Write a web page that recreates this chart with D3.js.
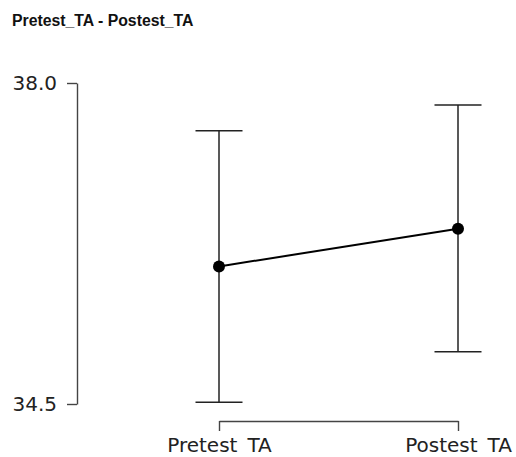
<!DOCTYPE html>
<html>
<head>
<meta charset="utf-8">
<script src="https://cdn.jsdelivr.net/npm/d3@7"></script>
<style>
  html, body { margin: 0; padding: 0; background: #fff; }
  svg { display: block; }
</style>
</head>
<body>
<svg id="chart" width="516" height="457"></svg>
<script>
const title = "Pretest_TA - Postest_TA";
const categories = ["Pretest_TA", "Postest_TA"];
const categoryLabels = ["Pretest\u2002TA", "Postest\u2002TA"];
const means = [36.0, 36.41];
const lowers = [34.52, 35.07];
const uppers = [37.48, 37.76];
const yTicks = [34.5, 38.0];

const svg = d3.select("#chart");
const W = 516, H = 457;

const x = d3.scalePoint().domain(categories).range([219, 458]).padding(0);
const y = d3.scaleLinear().domain([34.5, 38.0]).range([404, 83]);

svg.append("rect").attr("width", W).attr("height", H).attr("fill", "#fff");

svg.append("text")
  .attr("x", 12).attr("y", 26)
  .attr("font-family", "Liberation Sans, Arial, sans-serif")
  .attr("font-weight", "bold")
  .attr("font-size", "15.8px")
  .attr("fill", "#111")
  .text(title);

// Y axis
const yAxis = svg.append("g")
  .attr("transform", "translate(77,0)")
  .call(d3.axisLeft(y).tickValues(yTicks).tickFormat(d3.format(".1f")).tickSize(10).tickSizeOuter(0).tickPadding(10));
yAxis.selectAll("path, line").attr("stroke", "#444").attr("stroke-width", 1.4);
yAxis.selectAll("text")
  .attr("font-family", "DejaVu Sans, sans-serif")
  .attr("font-size", "20px")
  .attr("fill", "#222");

// X axis
const xAxis = svg.append("g")
  .attr("transform", "translate(0,421)")
  .call(d3.axisBottom(x).tickSize(10).tickSizeOuter(0)
    .tickFormat(d => categoryLabels[categories.indexOf(d)]));
xAxis.selectAll("path, line").attr("stroke", "#444").attr("stroke-width", 1.4);
xAxis.selectAll("text")
  .attr("y", 31).attr("dy", 0)
  .attr("font-family", "DejaVu Sans, sans-serif")
  .attr("font-size", "20px")
  .attr("fill", "#222");

// Error bars
const data = categories.map((c, i) => ({c, m: means[i], lo: lowers[i], hi: uppers[i]}));
const capW = 23.5;
const eb = svg.append("g").attr("stroke", "#222").attr("stroke-width", 1.5).attr("fill", "none");
data.forEach(d => {
  eb.append("line").attr("x1", x(d.c)).attr("x2", x(d.c)).attr("y1", y(d.hi)).attr("y2", y(d.lo));
  eb.append("line").attr("x1", x(d.c) - capW).attr("x2", x(d.c) + capW).attr("y1", y(d.hi)).attr("y2", y(d.hi));
  eb.append("line").attr("x1", x(d.c) - capW).attr("x2", x(d.c) + capW).attr("y1", y(d.lo)).attr("y2", y(d.lo));
});

// Mean line
svg.append("path")
  .datum(data)
  .attr("fill", "none")
  .attr("stroke", "#000")
  .attr("stroke-width", 2)
  .attr("d", d3.line().x(d => x(d.c)).y(d => y(d.m)));

svg.append("g").selectAll("circle")
  .data(data).join("circle")
  .attr("cx", d => x(d.c)).attr("cy", d => y(d.m)).attr("r", 6)
  .attr("fill", "#000");
</script>
</body>
</html>
